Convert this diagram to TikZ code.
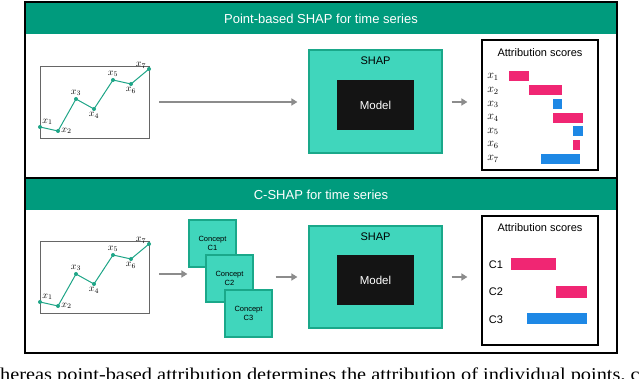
\documentclass[tikz,border=0pt]{standalone}
\usepackage{fontspec}
\setmainfont{Liberation Serif}
\setsansfont{Liberation Sans}
\usetikzlibrary{arrows.meta}
\definecolor{hdrgreen}{RGB}{0,155,125}
\definecolor{shapfill}{RGB}{64,214,188}
\definecolor{shapdraw}{RGB}{26,168,138}
\definecolor{tealline}{RGB}{30,165,135}
\definecolor{barpink}{RGB}{240,38,115}
\definecolor{barblue}{RGB}{30,136,229}
\definecolor{arrgray}{RGB}{140,140,140}
\tikzset{
  header/.style={fill=hdrgreen,text=white,font=\sffamily\fontsize{13}{15}\selectfont,minimum width=590pt,minimum height=31pt,inner sep=0pt},
  plotbox/.style={draw=black!60,line width=0.8pt,minimum width=109pt,minimum height=72pt,inner sep=0pt},
  dot/.style={circle,fill=tealline,minimum size=4pt,inner sep=0pt},
  ptlbl/.style={font=\fontsize{10}{10}\selectfont,inner sep=0pt,label distance=1pt},
  shapbox/.style={draw=shapdraw,fill=shapfill,line width=1.2pt,minimum width=133pt,minimum height=103pt,inner sep=0pt},
  modelbox/.style={fill=black!92,text=white,font=\sffamily\fontsize{11.5}{13}\selectfont,minimum width=77pt,minimum height=50pt,inner sep=0pt},
  sanstext/.style={font=\sffamily\fontsize{11}{13}\selectfont,inner sep=0pt},
  attrbox/.style={draw=black,line width=1.2pt,fill=white,minimum width=116pt,minimum height=130pt,inner sep=0pt},
  concept/.style={draw=shapdraw,fill=shapfill,line width=1.2pt,minimum width=47pt,minimum height=47pt,inner sep=0pt,align=center,font=\sffamily\fontsize{7.5}{9}\selectfont},
  garrow/.style={draw=arrgray,line width=2.2pt,-{Triangle[length=6pt,width=7pt]}},
  mathlbl/.style={font=\fontsize{12}{12}\selectfont,inner sep=0pt},
}
\begin{document}
\begin{tikzpicture}[x=1pt,y=-1pt]
\useasboundingbox (0,0) rectangle (640,379);
% headers
\node[header] (h1) at (321,18.5) {Point-based SHAP for time series};
\node[header] (h2) at (321,194.5) {C-SHAP for time series};
% frames
\draw[line width=2pt] (25,2) rectangle (617,353);
\draw[line width=2pt] (25,178) -- (617,178);
% plots
\foreach \i/\oy in {1/0,2/175}{
  \begin{scope}[yshift=-\oy pt]
  \node[plotbox] (plot\i) at (94.5,102) {};
  \draw[tealline,line width=1pt] (40,127) -- (58,131) -- (76,99) -- (94,109) -- (113,80) -- (131,84) -- (149,69);
  \node[dot,label={[ptlbl]above right:$x_1$}] (p\i-1) at (40,127) {};
  \node[dot,label={[ptlbl]right:$x_2$}] (p\i-2) at (58,131) {};
  \node[dot,label={[ptlbl]above:$x_3$}] (p\i-3) at (76,99) {};
  \node[dot,label={[ptlbl]below:$x_4$}] (p\i-4) at (94,109) {};
  \node[dot,label={[ptlbl]above:$x_5$}] (p\i-5) at (113,80) {};
  \node[dot,label={[ptlbl]below:$x_6$}] (p\i-6) at (131,84) {};
  \node[dot,label={[ptlbl,label distance=0.5pt]170:$x_7$}] (p\i-7) at (149,69) {};
  \end{scope}
}
% top panel
\node[shapbox] (shap1) at (375.5,101.5) {};
\node[sanstext] (shapt1) at (375.5,61) {SHAP};
\node[modelbox] (model1) at (375.5,105) {Model};
\node[attrbox] (attr1) at (540,105) {};
\node[sanstext] (attrt1) at (540,52.5) {Attribution scores};
\draw[garrow,shorten <=10pt,shorten >=11pt] (plot1) -- (plot1 -| shap1.west);
\draw[garrow,shorten <=9pt,shorten >=14pt] (shap1.east |- 0,102) -- (attr1.west |- 0,102);
\foreach \k/\y in {1/77,2/91,3/104.5,4/118,5/131.5,6/145,7/159}{
  \node[mathlbl] (xl\k) at (493,\y) {$x_{\k}$};
}
\fill[barpink] (509,71) rectangle (529,81);
\fill[barpink] (529,85) rectangle (562,95);
\fill[barblue] (553,99) rectangle (562,109);
\fill[barpink] (553,113) rectangle (583,123);
\fill[barblue] (573,126) rectangle (583,136);
\fill[barpink] (573,140) rectangle (580,150);
\fill[barblue] (541,154) rectangle (580,164);
% bottom panel
\node[concept] (c1) at (212.5,243.5) {Concept\\C1};
\node[concept] (c2) at (229.5,278.5) {Concept\\C2};
\node[concept] (c3) at (248.5,313.5) {Concept\\C3};
\node[shapbox,minimum height=102pt] (shap2) at (375.5,277) {};
\node[sanstext] (shapt2) at (375.5,237) {SHAP};
\node[modelbox] (model2) at (375.5,280) {Model};
\node[attrbox,minimum height=129pt] (attr2) at (540,280.5) {};
\node[sanstext] (attrt2) at (540,227.5) {Attribution scores};
\draw[garrow,shorten <=10pt,shorten >=1pt] ([yshift=3pt]plot2.east) -- ([yshift=3pt]plot2.east -| c1.west);
\draw[garrow,shorten <=3pt,shorten >=11pt] (c3.east |- shap2.west) -- (shap2.west);
\draw[garrow,shorten <=9pt,shorten >=14pt] (shap2.east |- 0,277) -- (attr2.west |- 0,277);
\node[sanstext] (cl1) at (496,264.5) {C1};
\node[sanstext] (cl2) at (496,292) {C2};
\node[sanstext] (cl3) at (496,319.5) {C3};
\fill[barpink] (511,258) rectangle (556,270);
\fill[barpink] (556,286) rectangle (587,298);
\fill[barblue] (527,313) rectangle (587,324);
% caption fragment
\node[anchor=base west,inner sep=0pt,font=\fontsize{18}{20}\selectfont] (cap) at (0,380.5) {\scalebox{1.13}[1]{hereas point-based attribution determines the attribution of individual points, c}};
\end{tikzpicture}
\end{document}
